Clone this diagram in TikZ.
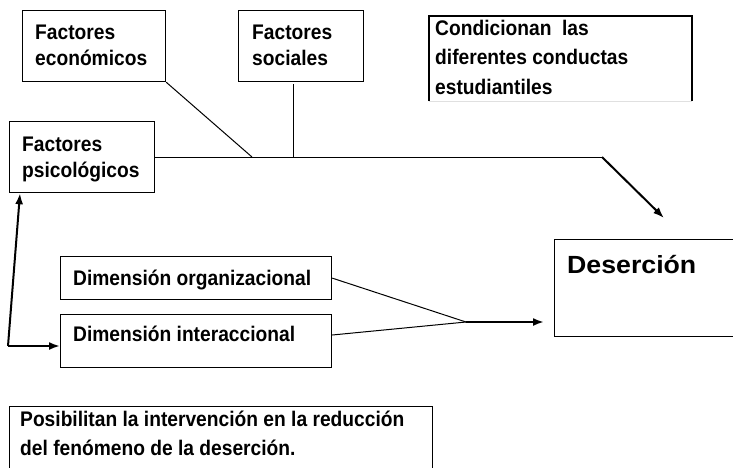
\documentclass[tikz,border=0pt]{standalone}
\usepackage{fontspec}
\setmainfont{Liberation Sans}
\usetikzlibrary{arrows.meta}
\newcommand\tallbox[2][1.1]{\scalebox{1}[#1]{#2}}
\newcommand\linesof[1]{\tallbox{\begin{tabular}[b]{@{}l@{}}#1\end{tabular}}}
\begin{document}
\begin{tikzpicture}[x=1pt,y=-1pt,
  box/.style={draw, line width=1.2pt, inner sep=0pt, anchor=north west},
  txt/.style={anchor=base west, inner sep=0pt, font=\fontsize{19.2}{23.6}\selectfont\bfseries},
  thinline/.style={line width=1pt},
  heavyarrow/.style={line width=2pt, -{Latex[length=11pt,width=8pt]}}]
\useasboundingbox (0,0) rectangle (733,467);
\clip (0,0) rectangle (733,467);
% boxes
\node[box, minimum width=143pt, minimum height=71pt] (econ) at (22,10) {};
\node[box, minimum width=125pt, minimum height=71pt] (soc) at (238,10) {};
\node[box, minimum width=145pt, minimum height=71pt] (psi) at (9,121) {};
\node[box, minimum width=271pt, minimum height=43pt] (org) at (60,256) {};
\node[box, minimum width=271pt, minimum height=53pt] (inter) at (60,314) {};
\node[box, minimum width=200pt, minimum height=97pt] (des) at (554,239) {};
\node[box, minimum width=423pt, minimum height=80pt] (pos) at (9,406) {};
% open-bottom box
\coordinate (cA) at (429,101);
\coordinate (cB) at (429,16);
\coordinate (cC) at (692,16);
\coordinate (cD) at (692,101);
\draw[line width=1.2pt] (cA) -- (cB) -- (cC) -- (cD);
\draw[line width=0.6pt, black!12] (cA) -- (cD);
% texts (base = last line)
\node[txt] (econT) at (35,65) {\linesof{Factores\\económicos}};
\node[txt] (socT) at (252,65) {\linesof{Factores\\sociales}};
\node[txt] (psiT) at (22,177) {\linesof{Factores\\psicológicos}};
\node[txt, font=\fontsize{19.2}{26.4}\selectfont\bfseries] (condT) at (435,94) {\linesof{Condicionan\ \ las\\diferentes conductas\\estudiantiles}};
\node[txt] (orgT) at (73,285) {\tallbox{Dimensión organizacional}};
\node[txt] (interT) at (73,341) {\tallbox{Dimensión interaccional}};
\node[txt, font=\fontsize{26.7}{30}\selectfont\bfseries] (desT) at (567,273) {\tallbox[0.93]{Deserción}};
\node[txt, font=\fontsize{19.2}{25.5}\selectfont\bfseries] (posT) at (20,455) {\linesof{Posibilitan la intervención en la reducción\\del fenómeno de la deserción.}};
% connectors
\coordinate (j1) at (252,157);
\coordinate (socfoot) at (293,84);
\coordinate (j2) at (293,157);
\coordinate (bend) at (602,157);
\coordinate (tip1) at (664,218);
\coordinate (conv) at (466,322);
\coordinate (tip2) at (544,322);
\coordinate (corner) at (8,346);
\draw[thinline] (econ.south east) -- (j1);
\draw[thinline] (socfoot) -- (j2);
\draw[thinline] (psi.east |- bend) -- (bend);
\draw[heavyarrow] (bend) -- (tip1);
\draw[thinline] (org.east) -- (conv);
\draw[thinline] (inter.east |- 0,335) -- (conv);
\draw[heavyarrow] (conv) -- (tip2);
\draw[heavyarrow] (corner) -- (psi.south west -| 20,0);
\draw[heavyarrow] (corner) -- (inter.west |- corner);
\end{tikzpicture}
\end{document}
